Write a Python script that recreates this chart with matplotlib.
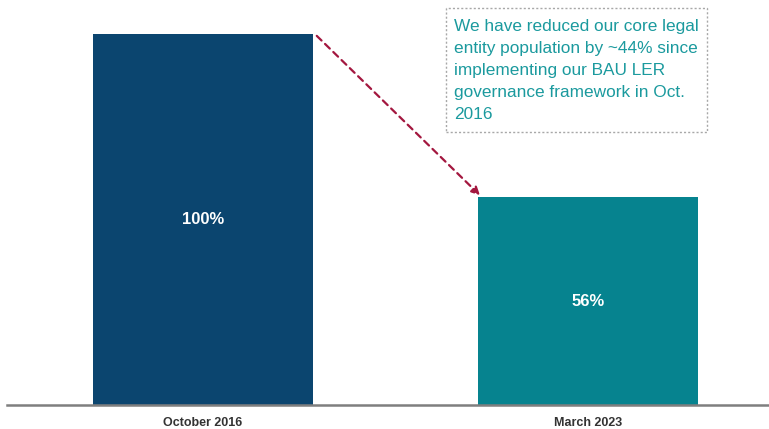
import matplotlib.pyplot as plt
from matplotlib.patches import FancyBboxPatch

plt.rcParams['font.family'] = ['Liberation Sans', 'DejaVu Sans']

categories = ['October 2016', 'March 2023']
values = [100, 56]
labels = ['100%', '56%']
colors = ['#0b456f', '#06838f']
note = ("We have reduced our core legal\nentity population by ~44% since\n"
        "implementing our BAU LER\ngovernance framework in Oct.\n2016")

fig = plt.figure(figsize=(7.69, 4.29), dpi=100)
ax = fig.add_axes([7 / 769, 24 / 429, 1 - 7 / 769, 371 / 429])

w = 0.571
x = list(range(len(categories)))
ax.bar(x, values, width=w, color=colors, zorder=2)
ax.set_xlim(-0.509, 1.47)
ax.set_ylim(0, 100)

for xi, v, lab in zip(x, values, labels):
    ax.text(xi, v * 0.5, lab, ha='center', va='center', color='white',
            fontsize=12, fontweight='bold')

for s in ['top', 'right', 'left']:
    ax.spines[s].set_visible(False)
ax.spines['bottom'].set_color('#7f7f7f')
ax.spines['bottom'].set_linewidth(1.8)
ax.set_yticks([])
ax.set_xticks(x)
ax.set_xticklabels(categories, fontsize=9, fontweight='bold', color='#333333')
ax.tick_params(axis='x', length=0, pad=9)

# dashed arrow from top of first bar to top of second
ax.annotate('', xy=(1 - w / 2 + 0.005, values[1] + 0.5),
            xytext=(w / 2 + 0.01, values[0] - 0.5),
            arrowprops=dict(arrowstyle='-|>', linestyle=(0, (3, 2.2)),
                            color='#a3173f', lw=1.6, mutation_scale=12,
                            shrinkA=0, shrinkB=0),
            annotation_clip=False)

# note box
fig.text(454 / 769, 1 - 19 / 429, note, ha='left', va='top', fontsize=12.4,
         color='#1b9a9e', linespacing=1.58)
box = FancyBboxPatch((446 / 769, 1 - 132 / 429), 261 / 769, 124 / 429,
                     boxstyle='square,pad=0', transform=fig.transFigure,
                     fill=False, edgecolor='#a8a8a8', linestyle=(0, (1.5, 1.5)),
                     lw=1.0)
fig.patches.append(box)

fig.savefig('out.png', dpi=100)
